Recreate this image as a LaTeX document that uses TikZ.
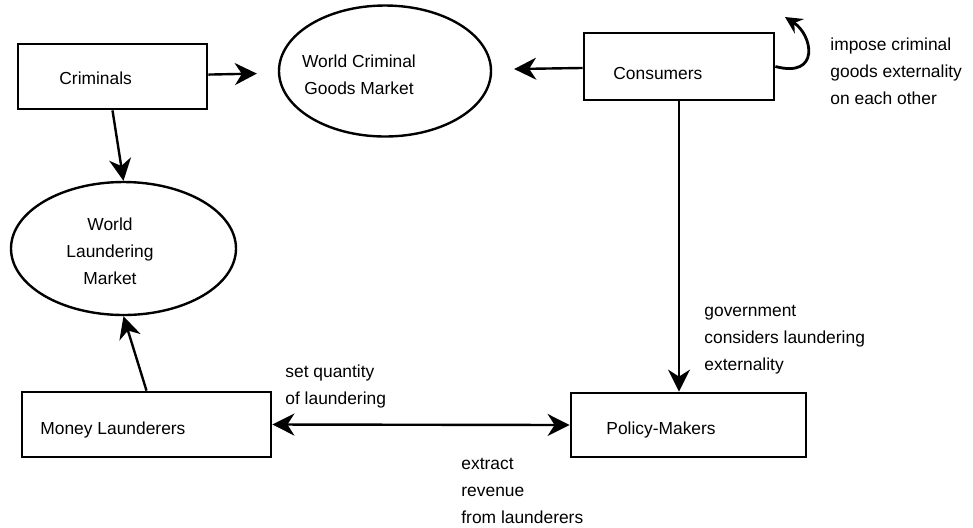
\documentclass[tikz,border=0pt]{standalone}
\usepackage{fontspec}
\setmainfont{Liberation Sans}
\usetikzlibrary{arrows.meta,shapes.geometric}

\begin{document}
\begin{tikzpicture}[x=0.5pt,y=-0.5pt,
hd/.tip={Stealth[length=11pt,width=11pt,inset=3.5pt]},
box/.style={draw,rectangle,line width=1.4pt,inner sep=0pt},
mkt/.style={draw,ellipse,line width=1.2pt,inner sep=0pt},
txt/.style={inner sep=0pt,font=\fontsize{8.7}{13.5}\selectfont},
arr/.style={line width=1.2pt,-hd}]
\useasboundingbox (0,0) rectangle (973,527);
% actors
\node [box,minimum width=94.5pt,minimum height=32.5pt] (crim) at (112.5,76.5) {};
\node [box,minimum width=95pt,minimum height=33.5pt] (cons) at (679,66.5) {};
\node [box,minimum width=124.5pt,minimum height=32.5pt] (laun) at (146.5,424.5) {};
\node [box,minimum width=117.5pt,minimum height=32pt] (pol) at (688.5,425) {};
\node [txt,anchor=base west] (crimtxt) at (59,84) {Criminals};
\node [txt,anchor=base west] (constxt) at (613,79) {Consumers};
\node [txt,anchor=base west] (launtxt) at (40,434) {Money Launderers};
\node [txt,anchor=base west] (poltxt) at (606,434) {Policy-Makers};
% markets
\node [mkt,minimum width=106pt,minimum height=65.5pt] (goods) at (385,71) {};
\node [mkt,minimum width=112.5pt,minimum height=66.5pt] (world) at (123.5,248.5) {};
\node [txt,align=center] (goodstxt) at (359,75) {World Criminal\\Goods Market};
\node [txt,align=center] (worldtxt) at (110,251) {World\\Laundering\\Market};
% comments
\node [txt,align=left,anchor=west] (imptxt) at (830,71) {impose criminal\\goods externality\\on each other};
\node [txt,align=left,anchor=west] (govtxt) at (704,340) {government\\considers laundering\\externality};
\node [txt,align=left,anchor=west] (settxt) at (285,386) {set quantity\\of laundering};
\node [txt,align=left,anchor=west] (exttxt) at (461,491) {extract\\revenue\\from launderers};
% links
\draw [arr,shorten >=10.5pt] (crim) -- (goods);
\draw [arr,shorten >=11pt] (cons) -- (goods);
\draw [arr] (crim.south) -- (world.north);
\draw [arr] (laun.north) -- (world.south);
\draw [arr] (cons.south) -- (cons.south |- pol.north);
\draw [arr,hd-hd] (laun.east) -- (pol.west);
\coordinate (loopend) at (785,17);
\draw [line width=1.4pt,-{Stealth[length=8.5pt,width=8.5pt,inset=3pt]}]
(cons.east) .. controls +(45,12) and +(28,18) .. (loopend);
\end{tikzpicture}
\end{document}
